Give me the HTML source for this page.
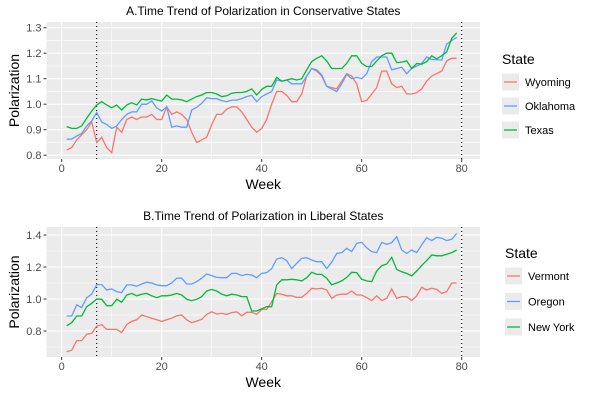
<!DOCTYPE html>
<html><head><meta charset="utf-8"><style>
body{margin:0;background:#fff}
svg{display:block;font-family:"Liberation Sans",sans-serif}
</style></head><body>
<svg id="chart" width="600" height="400" viewBox="0 0 600 400" xmlns="http://www.w3.org/2000/svg"></svg>
<script>
const weeks = Array.from({length:79},(_, i)=>i+1);
const xTicks = [0,20,40,60,80];
const vlines = [7,80];
const wyoming = [.82,.83,.86,.88,.90,.93,.85,.87,.83,.81,.91,.89,.94,.95,.94,.95,.95,.96,.94,.94,.99,.96,.97,.96,.94,.89,.85,.86,.87,.92,.96,.96,.98,.99,.99,.97,.94,.91,.89,.905,.94,1.0,1.05,1.05,1.035,1.01,1.01,1.04,1.11,1.14,1.13,1.11,1.07,1.065,1.06,1.09,1.12,1.11,1.08,1.01,1.015,1.04,1.065,1.13,1.13,1.08,1.065,1.07,1.04,1.04,1.045,1.06,1.09,1.11,1.12,1.13,1.17,1.18,1.18];
const oklahoma = [.863,.863,.875,.885,.915,.934,.967,.93,.92,.905,.915,.94,.96,.97,.97,1.0,1.0,1.013,.986,.973,.99,.91,.915,.91,.91,.977,.988,1.003,1.025,1.022,1.022,1.014,1.01,1.016,1.016,1.022,1.03,1.035,1.01,1.03,1.04,1.05,1.095,1.09,1.095,1.08,1.08,1.08,1.11,1.14,1.135,1.115,1.07,1.06,1.05,1.08,1.117,1.10,1.105,1.1,1.12,1.167,1.185,1.185,1.185,1.135,1.14,1.145,1.12,1.14,1.15,1.16,1.185,1.175,1.175,1.173,1.236,1.25,1.262];
const texas = [.912,.905,.905,.915,.945,.973,.997,1.01,.997,.986,.997,.977,.997,1.006,.997,1.02,1.017,1.022,1.017,1.012,1.036,1.02,1.02,1.017,1.01,1.02,1.03,1.036,1.046,1.046,1.04,1.03,1.033,1.043,1.046,1.046,1.05,1.06,1.036,1.058,1.07,1.07,1.105,1.09,1.095,1.1,1.095,1.1,1.135,1.167,1.18,1.19,1.17,1.14,1.14,1.14,1.16,1.19,1.19,1.16,1.148,1.148,1.17,1.19,1.2,1.2,1.163,1.165,1.17,1.14,1.16,1.157,1.167,1.19,1.178,1.19,1.205,1.258,1.28];
const vermont = [.67,.68,.74,.74,.78,.785,.83,.84,.81,.81,.81,.79,.84,.86,.87,.9,.89,.88,.87,.86,.87,.88,.895,.9,.87,.852,.862,.873,.904,.92,.906,.91,.904,.915,.92,.895,.917,.917,.904,.935,.935,.983,1.035,1.03,1.02,1.02,1.01,1.01,1.035,1.067,1.063,1.067,1.056,1.004,1.025,1.03,1.03,1.05,1.025,1.025,1.008,.99,1.02,.99,1.004,1.063,1.004,1.015,1.015,.99,1.02,1.073,1.056,1.067,1.06,1.035,1.046,1.1,1.1];
const oregon = [.894,.894,.963,.946,1.008,1.03,1.09,1.09,1.056,1.063,1.046,1.04,1.088,1.088,1.08,1.094,1.105,1.1,1.088,1.083,1.083,1.1,1.13,1.13,1.094,1.094,1.108,1.13,1.156,1.146,1.135,1.133,1.133,1.16,1.16,1.146,1.154,1.15,1.133,1.16,1.165,1.19,1.25,1.258,1.24,1.19,1.223,1.254,1.258,1.244,1.233,1.233,1.19,1.23,1.285,1.29,1.317,1.296,1.348,1.354,1.32,1.296,1.29,1.354,1.342,1.352,1.39,1.306,1.285,1.306,1.29,1.338,1.383,1.365,1.385,1.38,1.365,1.373,1.41];
const newyork = [.833,.852,.894,.894,.952,.973,1.0,.998,.958,.958,.998,.98,1.025,1.035,1.02,1.03,1.035,1.02,1.008,1.02,1.02,1.025,1.035,1.025,.998,.99,.998,1.015,1.05,1.06,1.05,1.03,1.02,1.03,1.025,1.015,1.015,.925,.925,.938,.952,.952,1.088,1.12,1.12,1.123,1.12,1.113,1.133,1.167,1.154,1.154,1.13,1.088,1.1,1.113,1.135,1.167,1.165,1.123,1.113,1.108,1.175,1.208,1.219,1.26,1.185,1.17,1.16,1.144,1.175,1.21,1.24,1.275,1.27,1.27,1.28,1.29,1.306];
const topYTicks = ["0.8","0.9","1.0","1.1","1.2","1.3"];
const botYTicks = ["0.8","1.0","1.2","1.4"];
const topNames = ["Wyoming","Oklahoma","Texas"];
const botNames = ["Vermont","Oregon","New York"];
const colors = ["#F8766D","#619CFF","#00BA38"];

const svg = document.getElementById('chart');
const NS = 'http://www.w3.org/2000/svg';
function mk(tag, attrs, parent){const e=document.createElementNS(NS,tag);for(const k in attrs)e.setAttribute(k,attrs[k]);(parent||svg).appendChild(e);return e;}
const xs = w => 61.7 + 5*w;
const PL=46.5, PR=480;

function panel(o){
  const g = mk('g',{});
  
  
  const ys = v => o.y0 + (v - o.v0) * o.k;
  const bg = mk('rect',{x:PL,y:o.top,width:PR-PL,height:o.bot-o.top,fill:'#EBEBEB'},g);
  
  
  for(const m of o.minor){ const yy=ys(m); if(yy>o.top&&yy<o.bot){ const l=mk('line',{x1:PL,x2:PR,y1:yy,y2:yy,stroke:'#fff','stroke-width':0.55},g);  }}
  for(let i=0;i<xTicks.length-1;i++){ const xx=xs((xTicks[i]+xTicks[i+1])/2); const l=mk('line',{x1:xx,x2:xx,y1:o.top,y2:o.bot,stroke:'#fff','stroke-width':0.55},g);  }
  o.yt.forEach(t=>{const yy=ys(+t);
    const l=mk('line',{x1:PL,x2:PR,y1:yy,y2:yy,stroke:'#fff','stroke-width':1.1},g);
     
    const tk=mk('line',{x1:PL-3,x2:PL,y1:yy,y2:yy,stroke:'#333','stroke-width':1},g);
     
    const tx=mk('text',{x:PL-5,y:yy+3.8,'text-anchor':'end','font-size':11,fill:'#4D4D4D'},g); tx.textContent=t;
     });
  xTicks.forEach(t=>{const xx=xs(t);
    const l=mk('line',{x1:xx,x2:xx,y1:o.top,y2:o.bot,stroke:'#fff','stroke-width':1.1},g);
     
    const tk=mk('line',{x1:xx,x2:xx,y1:o.bot,y2:o.bot+3,stroke:'#333','stroke-width':1},g);
     
    const tx=mk('text',{x:xx,y:o.bot+13,'text-anchor':'middle','font-size':11,fill:'#4D4D4D'},g); tx.textContent=t;
     });
  vlines.forEach(v=>{const xx=xs(v);
    const l=mk('line',{x1:xx,x2:xx,y1:o.top,y2:o.bot,stroke:'#000','stroke-width':1.1,'stroke-dasharray':'1,3'},g);
     });
  o.series.forEach((s,i)=>{
    const p=mk('polyline',{points:s.map((v,j)=>xs(weeks[j]).toFixed(1)+','+ys(v).toFixed(1)).join(' '),fill:'none',stroke:colors[i],'stroke-width':1.3},g);
    
    
  });
  const ti=mk('text',{x:(PL+PR)/2,y:o.top-7,'text-anchor':'middle','font-size':12,fill:'#000'},g); ti.textContent=o.title;
   
  const xt=mk('text',{x:(PL+PR)/2,y:o.bot+30,'text-anchor':'middle','font-size':14,fill:'#000'},g); xt.textContent='Week';
   
  const cy=(o.top+o.bot)/2;
  const yt=mk('text',{x:19,y:cy,'text-anchor':'middle','font-size':14,fill:'#000',transform:`rotate(-90 19 ${cy})`},g); yt.textContent='Polarization';
   
  const lt=mk('text',{x:o.lx,y:o.ly,'font-size':14,fill:'#000'},g); lt.textContent='State';
   
  o.names.forEach((n,i)=>{const cy2=o.ly+18+i*o.ls;
    const r=mk('rect',{x:o.lx,y:cy2-8.5,width:17,height:17,fill:'#EBEBEB'},g);
     
    const l=mk('line',{x1:o.lx+2,x2:o.lx+15,y1:cy2,y2:cy2,stroke:colors[i],'stroke-width':1.3},g);
     
    const t=mk('text',{x:o.lx+23,y:cy2+4,'font-size':11,fill:'#000'},g); t.textContent=n;
     });
}
panel({key:'conservative',title:'A.Time Trend of Polarization in Conservative States',top:22,bot:159,v0:1.3,y0:27.7,k:-255,yt:topYTicks,minor:[.75,.85,.95,1.05,1.15,1.25,1.35],series:[wyoming,oklahoma,texas],names:topNames,lx:502,ly:64,ls:24});
panel({key:'liberal',title:'B.Time Trend of Polarization in Liberal States',top:227,bot:357,v0:1.4,y0:235,k:-160,yt:botYTicks,minor:[.7,.9,1.1,1.3],series:[vermont,oregon,newyork],names:botNames,lx:505,ly:258,ls:25.5});
</script>
</body></html>
